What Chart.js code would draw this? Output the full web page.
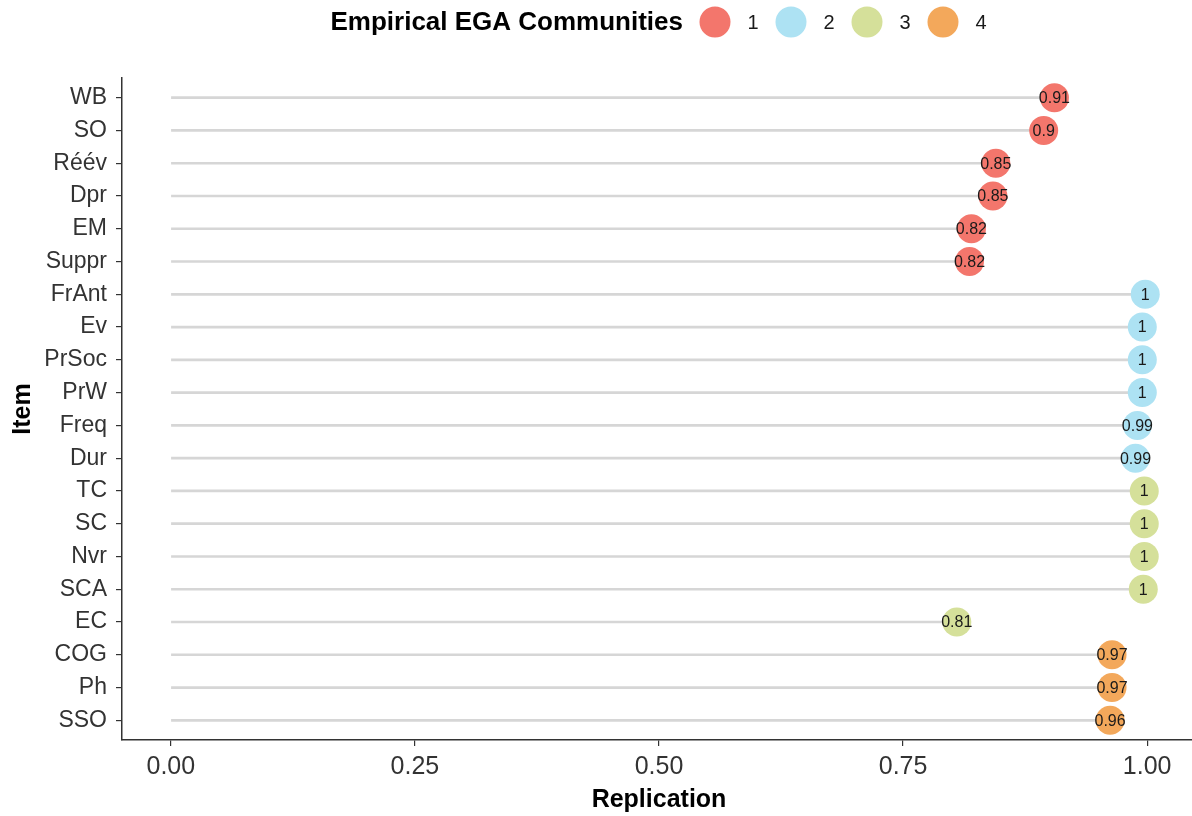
<!DOCTYPE html>
<html>
<head>
<meta charset="utf-8">
<script src="https://cdn.jsdelivr.net/npm/chart.js@4"></script>
<style>
  html, body { margin: 0; padding: 0; background: #fff; overflow: hidden; }
  canvas { display: block; }
</style>
</head>
<body>
<canvas id="replicationChart" width="1200" height="816"></canvas>
<script>
// item names, top to bottom
const items = ['WB', 'SO', 'Réév', 'Dpr', 'EM', 'Suppr', 'FrAnt', 'Ev', 'PrSoc', 'PrW',
               'Freq', 'Dur', 'TC', 'SC', 'Nvr', 'SCA', 'EC', 'COG', 'Ph', 'SSO'];
const replication = [0.905, 0.894, 0.845, 0.842, 0.820, 0.818, 0.998, 0.995, 0.995, 0.995,
                     0.990, 0.988, 0.997, 0.997, 0.997, 0.996, 0.805, 0.964, 0.964, 0.962];
const community = [1, 1, 1, 1, 1, 1, 2, 2, 2, 2, 2, 2, 3, 3, 3, 3, 3, 4, 4, 4];
const valueLabels = ['0.91', '0.9', '0.85', '0.85', '0.82', '0.82', '1', '1', '1', '1',
                     '0.99', '0.99', '1', '1', '1', '1', '0.81', '0.97', '0.97', '0.96'];
const communityNames = ['1', '2', '3', '4'];
const communityColors = ['#F3766C', '#ADE2F3', '#D5E09A', '#F3A85B'];
const xTicks = [0, 0.25, 0.5, 0.75, 1];

const FONT = '"Liberation Sans", Arial, sans-serif';

// item index on a reversed linear axis, so the discrete padding can be 0.6 like ggplot
const stems = replication.map((v, i) => ({ x: v, y: i }));

// one point dataset per community
const pointSets = communityNames.map((name, k) => ({
    type: 'line',
    label: name,
    indexAxis: 'y',
    data: stems.filter((p, i) => community[i] === k + 1),
    showLine: false,
    pointRadius: 14.5,
    pointHoverRadius: 14.5,
    pointBackgroundColor: communityColors[k],
    pointBorderColor: communityColors[k],
    pointBorderWidth: 0,
    order: 1
}));

// value text on each dot
const dotLabels = {
    id: 'dotLabels',
    afterDatasetsDraw(chart) {
        const ctx = chart.ctx;
        ctx.save();
        ctx.font = '16px ' + FONT;
        ctx.fillStyle = '#1a1a1a';
        ctx.textAlign = 'center';
        ctx.textBaseline = 'middle';
        chart.data.datasets.forEach((ds, di) => {
            if (ds.type !== 'line') return;
            chart.getDatasetMeta(di).data.forEach((pt, j) => {
                ctx.fillText(valueLabels[ds.data[j].y], pt.x, pt.y + 1);
            });
        });
        ctx.restore();
    }
};

// legend in one row at the top
const topLegend = {
    id: 'topLegend',
    afterDraw(chart) {
        const ctx = chart.ctx;
        const y = 22;
        ctx.save();
        ctx.font = 'bold 26px ' + FONT;
        ctx.fillStyle = '#000';
        ctx.textAlign = 'right';
        ctx.textBaseline = 'middle';
        ctx.fillText('Empirical EGA Communities', 683, y + 1);
        ctx.font = '20px ' + FONT;
        ctx.textAlign = 'center';
        const dotX = [715, 791, 867, 943];
        communityNames.forEach((name, k) => {
            ctx.beginPath();
            ctx.fillStyle = communityColors[k];
            ctx.arc(dotX[k], y, 15.5, 0, Math.PI * 2);
            ctx.fill();
            ctx.fillStyle = '#1a1a1a';
            ctx.fillText(name, dotX[k] + 38, y + 1);
        });
        ctx.restore();
    }
};

const ctx = document.getElementById('replicationChart').getContext('2d');
new Chart(ctx, {
    type: 'bar',
    data: {
        datasets: [{
            type: 'bar',
            label: 'stem',
            indexAxis: 'y',
            data: stems,
            backgroundColor: '#D6D6D6',
            barThickness: 2,
            order: 2
        }, ...pointSets]
    },
    options: {
        indexAxis: 'y',
        responsive: false,
        animation: false,
        layout: { autoPadding: false, padding: { top: 78, left: 0, right: 4, bottom: 0 } },
        plugins: {
            legend: { display: false },
            tooltip: { enabled: false }
        },
        scales: {
            x: {
                type: 'linear',
                min: -0.05,
                max: 1.05,
                offset: false,
                afterBuildTicks: (scale) => { scale.ticks = xTicks.map(v => ({ value: v })); },
                afterFit: (scale) => { scale.height = 76; scale.paddingLeft = 0; scale.paddingRight = 0; },
                grid: { drawOnChartArea: false, offset: false, tickLength: 6, color: '#333', lineWidth: 1.2 },
                border: { color: '#333', width: 1.5 },
                ticks: {
                    color: '#333',
                    padding: 6,
                    font: { size: 25, family: FONT },
                    callback: (v) => Number(v).toFixed(2)
                },
                title: {
                    display: true,
                    text: 'Replication',
                    color: '#000',
                    padding: { top: 0, bottom: 1 },
                    font: { size: 25, weight: 'bold', family: FONT }
                }
            },
            y: {
                type: 'linear',
                reverse: true,
                offset: false,
                min: -0.6,
                max: items.length - 0.4,
                afterBuildTicks: (scale) => { scale.ticks = items.map((s, i) => ({ value: i })); },
                afterFit: (scale) => { scale.width = 122; scale.paddingTop = 0; scale.paddingBottom = 0; },
                grid: { drawOnChartArea: false, offset: false, tickLength: 6, color: '#333', lineWidth: 1.2 },
                border: { color: '#333', width: 1.5 },
                ticks: {
                    color: '#333',
                    padding: 9,
                    autoSkip: false,
                    font: { size: 23, family: FONT },
                    callback: (v) => items[v]
                },
                title: {
                    display: true,
                    text: 'Item',
                    color: '#000',
                    padding: { top: 8, bottom: 0 },
                    font: { size: 25, weight: 'bold', family: FONT }
                }
            }
        }
    },
    plugins: [dotLabels, topLegend]
});
</script>
</body>
</html>
